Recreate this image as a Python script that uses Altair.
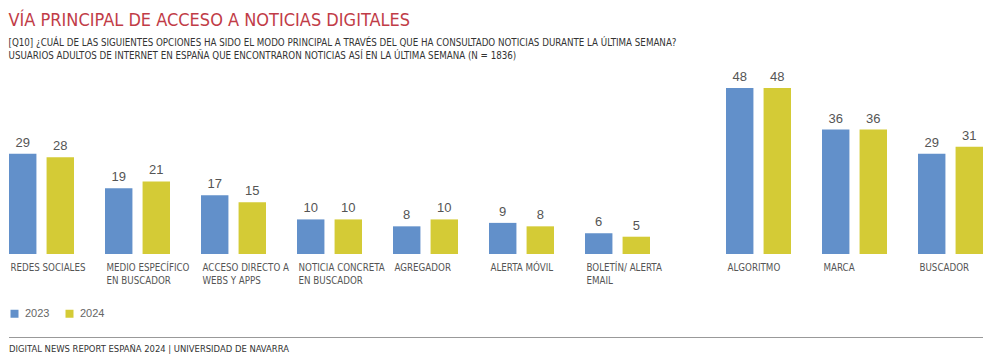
import altair as alt
import pandas as pd

TITLE = "VÍA PRINCIPAL DE ACCESO A NOTICIAS DIGITALES"
SUBTITLE = [
    "[Q10] ¿CUÁL DE LAS SIGUIENTES OPCIONES HA SIDO EL MODO PRINCIPAL A TRAVÉS DEL QUE HA CONSULTADO NOTICIAS DURANTE LA ÚLTIMA SEMANA?",
    "USUARIOS ADULTOS DE INTERNET EN ESPAÑA QUE ENCONTRARON NOTICIAS ASÍ EN LA ÚLTIMA SEMANA (N = 1836)",
]
FOOTER = "DIGITAL NEWS REPORT ESPAÑA 2024 | UNIVERSIDAD DE NAVARRA"

LEFT_CATS = ["REDES SOCIALES", "MEDIO ESPECÍFICO|EN BUSCADOR", "ACCESO DIRECTO A|WEBS Y APPS",
             "NOTICIA CONCRETA|EN BUSCADOR", "AGREGADOR", "ALERTA MÓVIL", "BOLETÍN/ ALERTA|EMAIL"]
LEFT_2023 = [29, 19, 17, 10, 8, 9, 6]
LEFT_2024 = [28, 21, 15, 10, 10, 8, 5]
RIGHT_CATS = ["ALGORITMO", "MARCA", "BUSCADOR"]
RIGHT_2023 = [48, 36, 29]
RIGHT_2024 = [48, 36, 31]
YEARS = ["2023", "2024"]
COLORS = ["#6290ca", "#d4cb36"]

FONT = "'DejaVu Sans Condensed', 'Roboto Condensed', 'Liberation Sans Narrow', 'Liberation Sans', sans-serif"
NUMFONT = "'Liberation Sans', sans-serif"
STEP = 96
BAND = 65
PI = (STEP - BAND) / STEP
HEIGHT = 166


def panel(cats, v23, v24, footer=False):
    n = len(cats)
    width = (n - 1) * STEP + BAND
    df = pd.DataFrame({
        "cat": cats * 2,
        "year": [YEARS[0]] * n + [YEARS[1]] * n,
        "value": v23 + v24,
    })
    base = alt.Chart(df).encode(
        x=alt.X("cat:N", sort=cats,
                scale=alt.Scale(paddingInner=PI, paddingOuter=0),
                axis=alt.Axis(title=None, domain=False, ticks=False, labelAngle=0,
                              labelAlign="left", labelBaseline="top", labelOffset=-31,
                              labelPadding=8, labelFont=FONT, labelFontSize=9.7,
                              labelColor="#555555", labelLineHeight=13, labelOverlap=False,
                              labelExpr="split(datum.label, '|')")),
        xOffset=alt.XOffset("year:N", sort=YEARS,
                            scale=alt.Scale(paddingInner=0.27, paddingOuter=0)),
        y=alt.Y("value:Q", scale=alt.Scale(domain=[0, 48]), axis=None),
    )
    bars = base.mark_bar().encode(
        color=alt.Color("year:N", sort=YEARS,
                        scale=alt.Scale(domain=YEARS, range=COLORS),
                        legend=alt.Legend(title=None, orient="none", legendX=0, legendY=220,
                                          direction="horizontal", symbolType="square",
                                          symbolSize=64, symbolStrokeWidth=0,
                                          labelFont=NUMFONT, labelFontSize=11,
                                          labelColor="#666666", labelOffset=5,
                                          columnPadding=14))
    )
    labels = base.mark_text(baseline="alphabetic", dy=-7, font=NUMFONT, fontSize=13,
                            color="#555555").encode(text="value:Q")
    layers = [bars, labels]
    if footer:
        fdf = pd.DataFrame({"t": [FOOTER]})
        rule = alt.Chart(fdf).mark_rule(color="#999999", strokeWidth=1).encode(
            x=alt.value(0), x2=alt.value(974), y=alt.value(249.5))
        ftext = alt.Chart(fdf).mark_text(align="left", baseline="alphabetic", font=FONT,
                                         fontSize=9.4, color="#333333").encode(
            text="t:N", x=alt.value(0), y=alt.value(264))
        layers += [rule, ftext]
    return alt.layer(*layers).properties(width=width, height=HEIGHT)


left = panel(LEFT_CATS, LEFT_2023, LEFT_2024, footer=True)
right = panel(RIGHT_CATS, RIGHT_2023, RIGHT_2024)

chart = alt.hconcat(left, right, spacing=76, bounds="flush").properties(
    padding={"top": 4, "left": 0, "right": 0, "bottom": 0},
    title=alt.TitleParams(
        text=TITLE, subtitle=SUBTITLE, anchor="start", font=FONT, fontSize=18,
        fontWeight="normal", color="#c13c47", subtitleFont=FONT, subtitleFontSize=9.7,
        subtitleColor="#333333", subtitlePadding=8, subtitleLineHeight=13, offset=10,
    ),
).configure_view(stroke=None)

chart.save("out.html", embed_options={"renderer": "svg", "actions": False})
